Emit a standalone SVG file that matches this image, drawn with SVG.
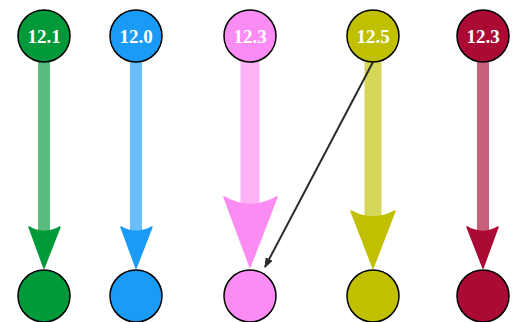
<svg xmlns="http://www.w3.org/2000/svg" width="528" height="322" viewBox="0 0 528 322">
<defs>
<style>
.node circle{stroke:#000;stroke-width:1.5}
.node text{font-family:"Liberation Serif","Times New Roman",serif;font-weight:bold;font-size:19px;fill:#fff;text-anchor:middle}
.stem{stroke-opacity:0.65;fill:none}
</style>
<marker id="thin" markerWidth="10" markerHeight="8" refX="9" refY="4" orient="auto" markerUnits="userSpaceOnUse">
<path d="M0,0 L10,4 L0,8 Z" fill="#2b2b2b"/>
</marker>
</defs>
<rect width="528" height="322" fill="#fff"/>
<g id="connectors">
<line class="stem" x1="44" y1="62" x2="44" y2="234" stroke="#009a3a" stroke-width="12"/>
<path d="M29,227 Q44,236 60,227 L44,268 Z" fill="#009a3a" stroke="#009a3a" stroke-width="1.5" stroke-linejoin="round"/>
<line class="stem" x1="136" y1="62" x2="136" y2="234" stroke="#1a9bf7" stroke-width="12"/>
<path d="M121,227 Q136,236 152,227 L136,268 Z" fill="#1a9bf7" stroke="#1a9bf7" stroke-width="1.5" stroke-linejoin="round"/>
<line class="stem" x1="250" y1="62" x2="250" y2="206" stroke="#fb8cf3" stroke-width="19"/>
<path d="M224,197 Q250,212 277,197 L250,267 Z" fill="#fb8cf3" stroke="#fb8cf3" stroke-width="1.5" stroke-linejoin="round"/>
<line class="stem" x1="373" y1="62" x2="373" y2="220" stroke="#c0c000" stroke-width="17"/>
<path d="M351,211 Q373,223 395,211 L373,268 Z" fill="#c0c000" stroke="#c0c000" stroke-width="1.5" stroke-linejoin="round"/>
<line class="stem" x1="483" y1="62" x2="483" y2="234" stroke="#aa0a33" stroke-width="12"/>
<path d="M467,227 Q483,236 498,227 L483,268 Z" fill="#aa0a33" stroke="#aa0a33" stroke-width="1.5" stroke-linejoin="round"/>
<line x1="373" y1="62" x2="265" y2="267" stroke="#2b2b2b" stroke-width="2" marker-end="url(#thin)"/>
</g>
<g id="n1" class="node"><circle cx="44" cy="36" r="26" fill="#009a3a"/><text x="44" y="43">12.1</text></g>
<g id="n2" class="node"><circle cx="136" cy="36" r="26" fill="#1a9bf7"/><text x="136" y="43">12.0</text></g>
<g id="n3" class="node"><circle cx="250" cy="36" r="26" fill="#fb8cf3"/><text x="250" y="43">12.3</text></g>
<g id="n4" class="node"><circle cx="373" cy="36" r="26" fill="#c0c000"/><text x="373" y="43">12.5</text></g>
<g id="n5" class="node"><circle cx="483" cy="36" r="26" fill="#aa0a33"/><text x="483" y="43">12.3</text></g>
<g id="m1" class="node"><circle cx="44" cy="296" r="26" fill="#009a3a"/></g>
<g id="m2" class="node"><circle cx="136" cy="296" r="26" fill="#1a9bf7"/></g>
<g id="m3" class="node"><circle cx="250" cy="296" r="26" fill="#fb8cf3"/></g>
<g id="m4" class="node"><circle cx="373" cy="296" r="26" fill="#c0c000"/></g>
<g id="m5" class="node"><circle cx="483" cy="296" r="26" fill="#aa0a33"/></g>
</svg>
